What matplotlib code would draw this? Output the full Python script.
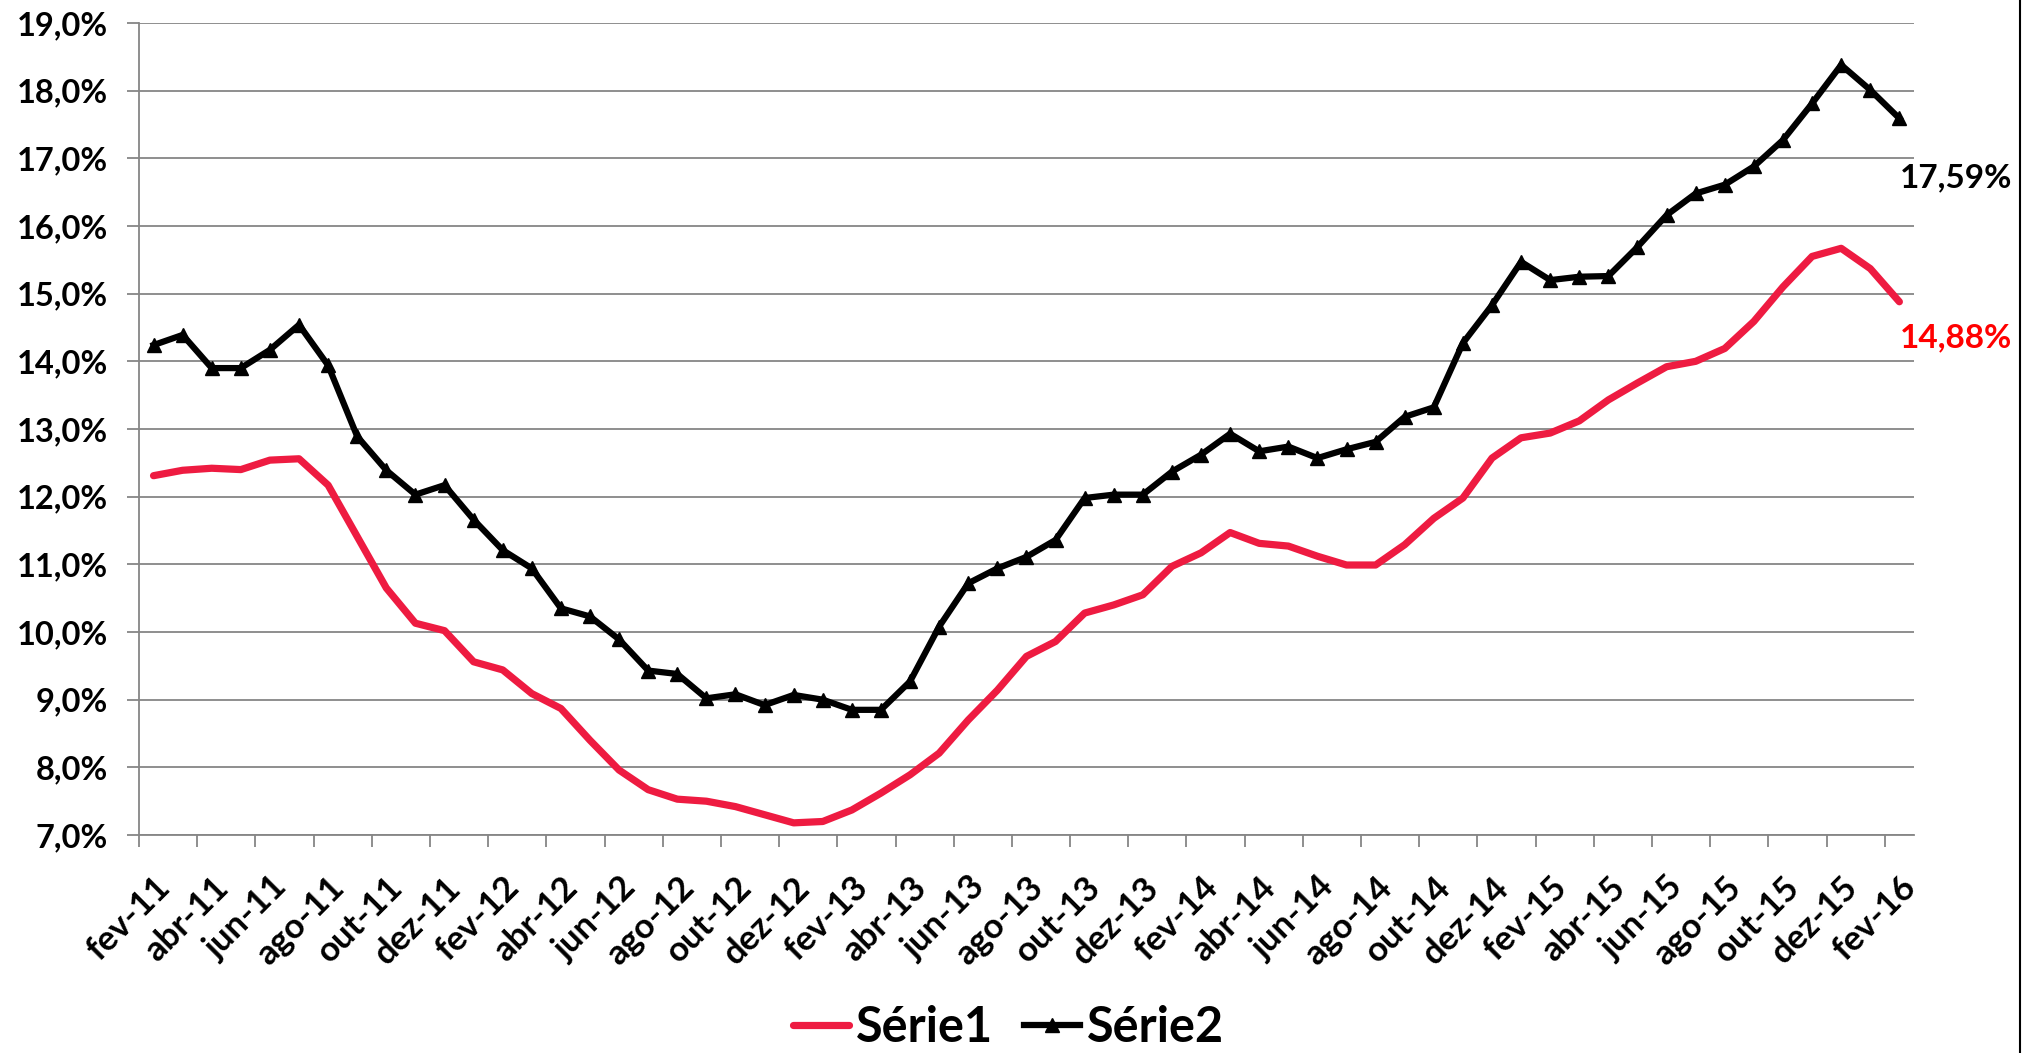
import numpy as np
import matplotlib.pyplot as plt
from matplotlib.lines import Line2D
from matplotlib.transforms import ScaledTranslation

# -------------------------------------------------
# data (monthly, fev-11 .. fev-16)
# -------------------------------------------------
serie1 = [12.31, 12.39, 12.42, 12.40, 12.54, 12.56, 12.17, 11.41, 10.65, 10.13,
          10.02, 9.56, 9.44, 9.09, 8.87, 8.40, 7.96, 7.67, 7.53, 7.50,
          7.42, 7.30, 7.18, 7.20, 7.37, 7.62, 7.89, 8.21, 8.70, 9.14,
          9.64, 9.86, 10.28, 10.40, 10.55, 10.97, 11.17, 11.47, 11.31, 11.27,
          11.12, 10.99, 10.99, 11.29, 11.68, 11.98, 12.57, 12.87, 12.94, 13.12,
          13.43, 13.68, 13.92, 14.00, 14.19, 14.59, 15.10, 15.55, 15.67, 15.37,
          14.88]

serie2 = [14.24, 14.39, 13.90, 13.90, 14.17, 14.54, 13.94, 12.89, 12.39, 12.03,
          12.17, 11.66, 11.21, 10.94, 10.35, 10.23, 9.89, 9.43, 9.38, 9.02,
          9.08, 8.92, 9.07, 9.00, 8.85, 8.85, 9.27, 10.08, 10.72, 10.94,
          11.11, 11.36, 11.98, 12.03, 12.03, 12.37, 12.62, 12.93, 12.67, 12.74,
          12.57, 12.70, 12.81, 13.18, 13.32, 14.27, 14.83, 15.47, 15.20, 15.25,
          15.26, 15.69, 16.16, 16.48, 16.61, 16.88, 17.27, 17.81, 18.38, 18.01,
          17.59]

tick_labels = ["fev-11", "abr-11", "jun-11", "ago-11", "out-11", "dez-11",
               "fev-12", "abr-12", "jun-12", "ago-12", "out-12", "dez-12",
               "fev-13", "abr-13", "jun-13", "ago-13", "out-13", "dez-13",
               "fev-14", "abr-14", "jun-14", "ago-14", "out-14", "dez-14",
               "fev-15", "abr-15", "jun-15", "ago-15", "out-15", "dez-15",
               "fev-16"]

y_ticks = [7, 8, 9, 10, 11, 12, 13, 14, 15, 16, 17, 18, 19]

# -------------------------------------------------
# plot
# -------------------------------------------------
plt.rcParams['font.family'] = ['Lato', 'DejaVu Sans']
plt.rcParams['font.weight'] = 'bold'

fig = plt.figure(figsize=(20.35, 10.53), dpi=100)
ax = fig.add_axes([0.0683, 0.207, 0.8722, 0.7712])

x = np.arange(len(serie1))
ax.plot(x, serie1, color='#EE1B41', lw=5.2, solid_capstyle='round',
        label='Série1', zorder=3)
ax.plot(x, serie2, color='black', lw=4.5, marker='^', ms=10,
        label='Série2', zorder=4)

ax.set_xlim(-0.5, len(x) - 0.5)
ax.set_ylim(7, 19)

grey = '#868686'
ax.set_yticks(y_ticks)
ax.set_yticklabels([f"{v:.1f}%".replace('.', ',') for v in y_ticks])
ax.yaxis.grid(True, color=grey, lw=1.3)
ax.set_axisbelow(True)

# ticks between categories, labels on every second category
ax.set_xticks(np.arange(-0.5, len(x) - 1, 2))
ax.set_xticklabels([])
ax.set_xticks(np.arange(0, len(x), 2), minor=True)
ax.set_xticklabels(tick_labels, minor=True, rotation=45, ha='right',
                   va='top', rotation_mode='anchor')
shift = ScaledTranslation(0.07, 0, fig.dpi_scale_trans)
for lab in ax.get_xticklabels(minor=True):
    lab.set_transform(lab.get_transform() + shift)

ax.tick_params(axis='y', length=8.6, width=1.3, color=grey, pad=14, labelsize=23.5)
ax.tick_params(axis='x', which='major', length=8.6, width=1.3, color=grey)
ax.tick_params(axis='x', which='minor', length=0, pad=26, labelsize=25)

for s in ['top', 'right']:
    ax.spines[s].set_visible(False)
for s in ['left', 'bottom']:
    ax.spines[s].set_color(grey)
    ax.spines[s].set_linewidth(1.3)

# end labels
ax.annotate('17,59%', (x[-1], serie2[-1]), xytext=(0, -43),
            textcoords='offset points', ha='left', va='center',
            fontsize=24, color='black')
ax.annotate('14,88%', (x[-1], serie1[-1]), xytext=(0, -26),
            textcoords='offset points', ha='left', va='center',
            fontsize=24, color='#FF0000')

fig.legend(loc='lower center', bbox_to_anchor=(0.4956, -0.016), ncol=2,
           frameon=False, fontsize=35, handlelength=1.15, borderaxespad=0,
           columnspacing=0.65, handletextpad=0.13)

fig.add_artist(Line2D([2020 / 2035] * 2, [0, 1], color='black', lw=1.5))

fig.savefig('out.png', dpi=100)
